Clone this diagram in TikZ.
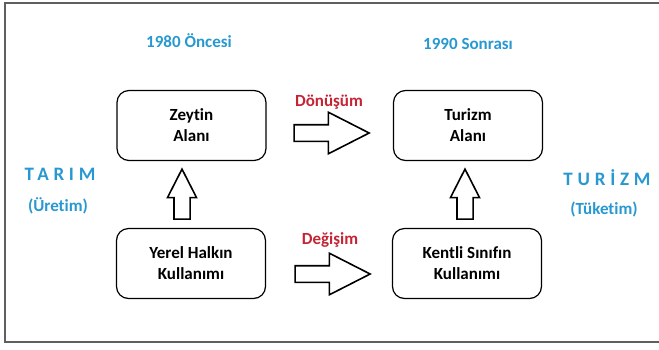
\documentclass[tikz,border=0pt]{standalone}
\usepackage{fontspec}
\setmainfont{Carlito}[Ligatures=NoCommon]
\newfontfamily\aralikli{Carlito}[LetterSpace=25,Ligatures=NoCommon]
\usetikzlibrary{shapes.arrows}
\definecolor{baslikmavi}{RGB}{40,152,208}
\definecolor{etiketkirmizi}{RGB}{196,36,52}
\definecolor{cerceve}{RGB}{95,95,95}

\begin{document}
\begin{tikzpicture}[
  x=1pt,
  y=-1pt,
  kutu/.style={draw, rounded corners=12pt, line width=1.2pt, minimum width=149pt,
    minimum height=70pt, align=center, font=\fontsize{17}{21}\selectfont\bfseries},
  ok/.style={draw, single arrow, line width=1.6pt, single arrow tip angle=54,
    single arrow head extend=12.5pt, inner sep=7.5pt},
  baslik/.style={text=baslikmavi, font=\fontsize{17}{20}\selectfont\bfseries},
  etiket/.style={text=etiketkirmizi, font=\fontsize{17}{20}\selectfont\bfseries}
]
  \useasboundingbox (0,0) rectangle (659,349);
  % çerçeve
  \draw[cerceve, line width=1.4pt] (670,3) -- (5,3) -- (5,342) -- (670,342);

  % kutular
  \node[kutu] (zeytin) at (191.5,125.5) {Zeytin\\Alanı};
  \node[kutu] (turizm) at (468,125.5) {Turizm\\Alanı};
  \node[kutu] (yerel)  at (191,263.5) {Yerel Halkın\\Kullanımı};
  \node[kutu] (kentli) at (467,263.5) {Kentli Sınıfın\\Kullanımı};

  % oklar
  \node[ok, minimum height=75pt] (donusumok) at (323.5,133) {};
  \node[ok, minimum height=75pt] (degisimok) at (324.5,274) {};
  \node[ok, shape border rotate=90, minimum height=50pt, inner sep=7.25pt,
    single arrow head extend=6.5pt] (solok) at (182,202) {};
  \node[ok, shape border rotate=90, minimum height=50pt, inner sep=7.25pt,
    single arrow head extend=6.5pt] (sagok) at (465,202) {};

  % başlıklar
  \node[baslik] (once)  at (189,41) {1980 Öncesi};
  \node[baslik] (sonra) at (468,44) {1990 Sonrası};
  \node[etiket] (donusum) at (329,102) {Dönüşüm};
  \node[etiket] (degisim) at (330,240) {Değişim};
  \node[baslik, font=\fontsize{19}{22}\selectfont\bfseries\aralikli] (tarim) at (60,174) {TARIM};
  \node[baslik] (uretim) at (58,206) {(Üretim)};
  \node[baslik, font=\fontsize{19}{22}\selectfont\bfseries\aralikli] (turizmyaz) at (607,178) {TURİZM};
  \node[baslik] (tuketim) at (604,209) {(Tüketim)};
\end{tikzpicture}
\end{document}
